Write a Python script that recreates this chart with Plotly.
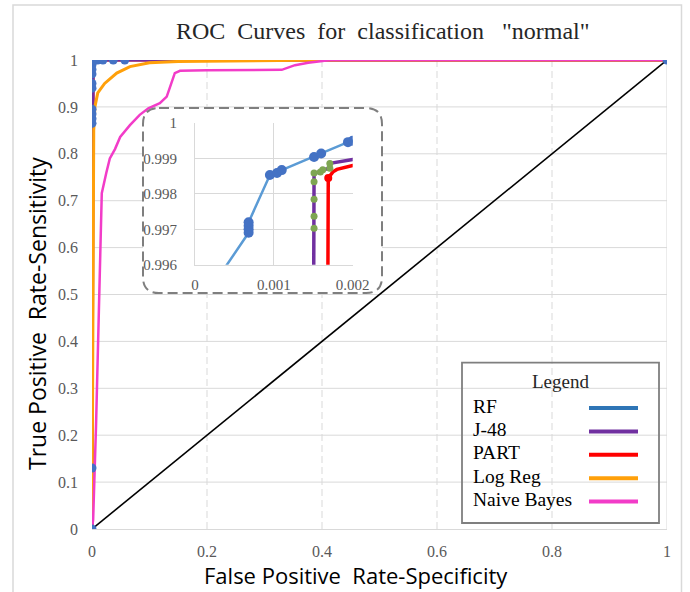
import plotly.graph_objects as go

# ---------------- data ----------------
rf_x = [0, 0, 0, 0, 0, 0, 0, 0, 0, 0, 0, 0.0001, 0.00068, 0.00068, 0.00068, 0.00068,
        0.00095, 0.00104, 0.0011, 0.00151, 0.0016, 0.00194, 0.002, 0.005, 0.01,
        0.019, 0.037, 0.057, 1]
rf_y = [0, 0.13, 0.865, 0.875, 0.885, 0.895, 0.94, 0.95, 0.97, 0.98, 0.99, 0.995,
        0.9969, 0.997, 0.9971, 0.9972, 0.99853, 0.99859, 0.99867, 0.99904, 0.99914,
        0.99946, 0.9995, 0.9998, 1, 1, 1, 1, 1]

j48_x = [0, 0.00151, 0.00151, 0.00151, 0.00151, 0.00151, 0.00159, 0.00162, 0.00171,
         0.00171, 0.002, 0.004, 0.01, 1]
j48_y = [0, 0.99703, 0.99737, 0.99785, 0.99834, 0.99859, 0.99862, 0.99868, 0.99872,
         0.99886, 0.99897, 0.9995, 1, 1]
j48_marker_idx = [1, 2, 3, 4, 5, 6, 7, 8, 9]

part_x = [0, 0.00169, 0.00175, 0.0018, 0.002, 0.005, 0.01, 1]
part_y = [0, 0.99845, 0.99862, 0.99869, 0.9988, 0.9995, 1, 1]
part_marker_idx = [1]

logreg_x = [0, 0.002, 0.003, 0.005, 0.01, 0.022, 0.043, 0.066, 0.1, 0.15, 0.25, 0.4, 0.41, 1]
logreg_y = [0, 0.6, 0.85, 0.9, 0.93, 0.95, 0.972, 0.986, 0.994, 0.997, 0.998, 0.9985, 1, 1]

nb_x = [0, 0.002, 0.007, 0.012, 0.017, 0.025, 0.031, 0.04, 0.049, 0.066, 0.083, 0.098,
        0.118, 0.13, 0.144, 0.153, 0.2, 0.33, 0.353, 0.376, 0.408, 0.415, 1]
nb_y = [0, 0.02, 0.22, 0.5, 0.716, 0.76, 0.79, 0.81, 0.836, 0.861, 0.883, 0.897,
        0.908, 0.922, 0.972, 0.977, 0.978, 0.979, 0.989, 0.994, 0.9985, 1, 1]

diag_x = [0, 1]
diag_y = [0, 1]

series_names = ["RF", "J-48", "PART", "Log Reg", "Naive Bayes"]
series_colors = ["#2E75B6", "#7030A0", "#FF0000", "#FFA00A", "#F23CC8"]

x_ticks = [0, 0.2, 0.4, 0.6, 0.8, 1]
x_ticktext = ["0", "0.2", "0.4", "0.6", "0.8", "1"]
y_ticks = [0, 0.1, 0.2, 0.3, 0.4, 0.5, 0.6, 0.7, 0.8, 0.9, 1]
y_ticktext = ["0", "0.1", "0.2", "0.3", "0.4", "0.5", "0.6", "0.7", "0.8", "0.9", "1"]
ix_ticks = [0, 0.001, 0.002]
ix_ticktext = ["0", "0.001", "0.002"]
iy_ticks = [0.996, 0.997, 0.998, 0.999, 1]
iy_ticktext = ["0.996", "0.997", "0.998", "0.999", "1"]

NB = "\u00a0"
title_text = f"ROC{NB} Curves{NB} for{NB} classification{NB} {NB}\"normal\""
x_title = f"False Positive{NB} Rate-Specificity"
y_title = f"True Positive{NB} Rate-Sensitivity"

# ---------------- layout helpers (pixel -> paper) ----------------
W, H = 690, 592
ML, MR, MT, MB = 92, 23, 60, 63
PW, PH = W - ML - MR, H - MT - MB


def px(x):
    return (x - ML) / PW


def py(y):
    return (H - MB - y) / PH


SERIF = "Liberation Serif, Times New Roman, serif"
SANS = "Open Sans, Lato, sans-serif"
GRID = "#D9D9D9"
TICKC = "#595959"

fig = go.Figure()

# main traces
fig.add_trace(go.Scatter(x=diag_x, y=diag_y, mode="lines",
                         line=dict(color="#000000", width=1.6), xaxis="x", yaxis="y"))
fig.add_trace(go.Scatter(x=rf_x, y=rf_y, mode="lines",
                         line=dict(color="#5B9BD5", width=2.5), xaxis="x", yaxis="y"))
fig.add_trace(go.Scatter(x=part_x, y=part_y, mode="lines",
                         line=dict(color=series_colors[2], width=3), xaxis="x", yaxis="y"))
fig.add_trace(go.Scatter(x=j48_x, y=j48_y, mode="lines",
                         line=dict(color=series_colors[1], width=3), xaxis="x", yaxis="y"))
fig.add_trace(go.Scatter(x=logreg_x, y=logreg_y, mode="lines",
                         line=dict(color=series_colors[3], width=3), xaxis="x", yaxis="y"))
fig.add_trace(go.Scatter(x=nb_x, y=nb_y, mode="lines",
                         line=dict(color=series_colors[4], width=2.5), xaxis="x", yaxis="y"))
fig.add_trace(go.Scatter(x=rf_x, y=rf_y, mode="markers",
                         marker=dict(color="#4472C4", size=9), xaxis="x", yaxis="y"))

# inset traces
fig.add_trace(go.Scatter(x=rf_x, y=rf_y, mode="lines+markers",
                         line=dict(color="#5B9BD5", width=2.5),
                         marker=dict(color="#4472C4", size=10), xaxis="x2", yaxis="y2"))
fig.add_trace(go.Scatter(x=part_x, y=part_y, mode="lines",
                         line=dict(color=series_colors[2], width=3.5), xaxis="x2", yaxis="y2"))
fig.add_trace(go.Scatter(x=[part_x[i] for i in part_marker_idx],
                         y=[part_y[i] for i in part_marker_idx], mode="markers",
                         marker=dict(color=series_colors[2], size=8), xaxis="x2", yaxis="y2"))
fig.add_trace(go.Scatter(x=j48_x, y=j48_y, mode="lines",
                         line=dict(color=series_colors[1], width=3.5), xaxis="x2", yaxis="y2"))
fig.add_trace(go.Scatter(x=[j48_x[i] for i in j48_marker_idx],
                         y=[j48_y[i] for i in j48_marker_idx], mode="markers",
                         marker=dict(color="#7EA652", size=7), xaxis="x2", yaxis="y2"))

shapes = []
annotations = []

# outer border
shapes.append(dict(type="rect", xref="paper", yref="paper", x0=px(13), x1=px(681.5),
                   y0=py(5), y1=py(594), line=dict(color=GRID, width=1.5), layer="below"))

# main gridlines (drawn as shapes so the inset frame can hide them)
for t in y_ticks[1:]:
    shapes.append(dict(type="line", xref="paper", yref="y", x0=0, x1=1, y0=t, y1=t,
                       line=dict(color=GRID, width=1), layer="below"))
for t in x_ticks[1:]:
    shapes.append(dict(type="line", xref="x", yref="paper", x0=t, x1=t, y0=0, y1=1,
                       line=dict(color=GRID, width=1,
                                 dash=("solid" if t == x_ticks[-1] else "7px,4px")),
                       layer="below"))

# inset rounded frame
fx0, fx1, fy0, fy1, r = 143, 382, 108, 293, 16


def P(x, y):
    return f"{px(x):.5f},{py(y):.5f}"


frame_path = (f"M {P(fx0 + r, fy0)} L {P(fx1 - r, fy0)} Q {P(fx1, fy0)} {P(fx1, fy0 + r)} "
              f"L {P(fx1, fy1 - r)} Q {P(fx1, fy1)} {P(fx1 - r, fy1)} "
              f"L {P(fx0 + r, fy1)} Q {P(fx0, fy1)} {P(fx0, fy1 - r)} "
              f"L {P(fx0, fy0 + r)} Q {P(fx0, fy0)} {P(fx0 + r, fy0)} Z")
shapes.append(dict(type="path", xref="paper", yref="paper", path=frame_path,
                   fillcolor="white", line=dict(color="white", width=0), layer="below"))
shapes.append(dict(type="path", xref="paper", yref="paper", path=frame_path,
                   line=dict(color="#7F7F7F", width=2, dash="10px,5px"), layer="above"))

# custom legend
shapes.append(dict(type="rect", xref="paper", yref="paper", x0=px(462), x1=px(659),
                   y0=py(362.7), y1=py(523), line=dict(color="#7F7F7F", width=1.8),
                   layer="above"))
annotations.append(dict(text="Legend", xref="paper", yref="paper", x=px(560), y=py(381.5),
                        showarrow=False, xanchor="center", yanchor="middle",
                        font=dict(family=SERIF, size=19, color="#262626")))
entry_y = [406, 429.4, 452.8, 476.2, 499.6]
for name, col, ey in zip(series_names, series_colors, entry_y):
    annotations.append(dict(text=name, xref="paper", yref="paper", x=px(471), y=py(ey),
                            showarrow=False, xanchor="left", yanchor="middle",
                            font=dict(family=SERIF, size=19.5, color="#000000")))
    shapes.append(dict(type="line", xref="paper", yref="paper", x0=px(589), x1=px(638),
                       y0=py(ey + 2), y1=py(ey + 2), line=dict(color=col, width=4),
                       layer="above"))

# titles
annotations.append(dict(text=title_text, xref="paper", yref="paper", x=px(383), y=py(31),
                        showarrow=False, xanchor="center", yanchor="middle",
                        font=dict(family=SERIF, size=24, color="#262626")))
annotations.append(dict(text=x_title, xref="paper", yref="paper", x=px(356), y=py(575),
                        showarrow=False, xanchor="center", yanchor="middle", borderpad=0,
                        font=dict(family=SANS, size=22, color="#000000")))
annotations.append(dict(text=y_title, xref="paper", yref="paper", x=px(37), y=py(314),
                        showarrow=False, xanchor="center", yanchor="middle", textangle=-90,
                        borderpad=0, font=dict(family=SANS, size=23, color="#000000")))

tickfont = dict(family=SERIF, size=16, color=TICKC)

fig.update_layout(
    width=W, height=H,
    margin=dict(l=ML, r=MR, t=MT, b=MB),
    paper_bgcolor="white", plot_bgcolor="rgba(0,0,0,0)",
    showlegend=False,
    shapes=shapes, annotations=annotations,
    xaxis=dict(domain=[0, 1], range=[0, 1], tickvals=x_ticks, ticktext=x_ticktext,
               showgrid=False, zeroline=False, showline=True, linecolor=GRID, linewidth=1,
               ticks="", ticklabelstandoff=8, tickfont=tickfont, automargin=False),
    yaxis=dict(domain=[0, 1], range=[0, 1], tickvals=y_ticks, ticktext=y_ticktext,
               showgrid=False, zeroline=False, showline=False,
               ticks="", ticklabelstandoff=13, tickfont=tickfont, automargin=False),
    xaxis2=dict(domain=[px(195), px(352.7)], range=[0, 0.002], anchor="y2",
                tickvals=ix_ticks, ticktext=ix_ticktext, showgrid=True, gridcolor=GRID,
                zeroline=False, showline=True, linecolor=GRID, ticks="", automargin=False,
                ticklabelstandoff=6, tickfont=dict(family=SERIF, size=15, color=TICKC)),
    yaxis2=dict(domain=[py(264.7), py(123)], range=[0.996, 1], anchor="x2",
                tickvals=iy_ticks, ticktext=iy_ticktext, showgrid=True, gridcolor=GRID,
                zeroline=False, showline=True, linecolor=GRID, ticks="", automargin=False,
                ticklabelstandoff=14, tickfont=dict(family=SERIF, size=15, color=TICKC)),
)

fig.write_html("out.html")
